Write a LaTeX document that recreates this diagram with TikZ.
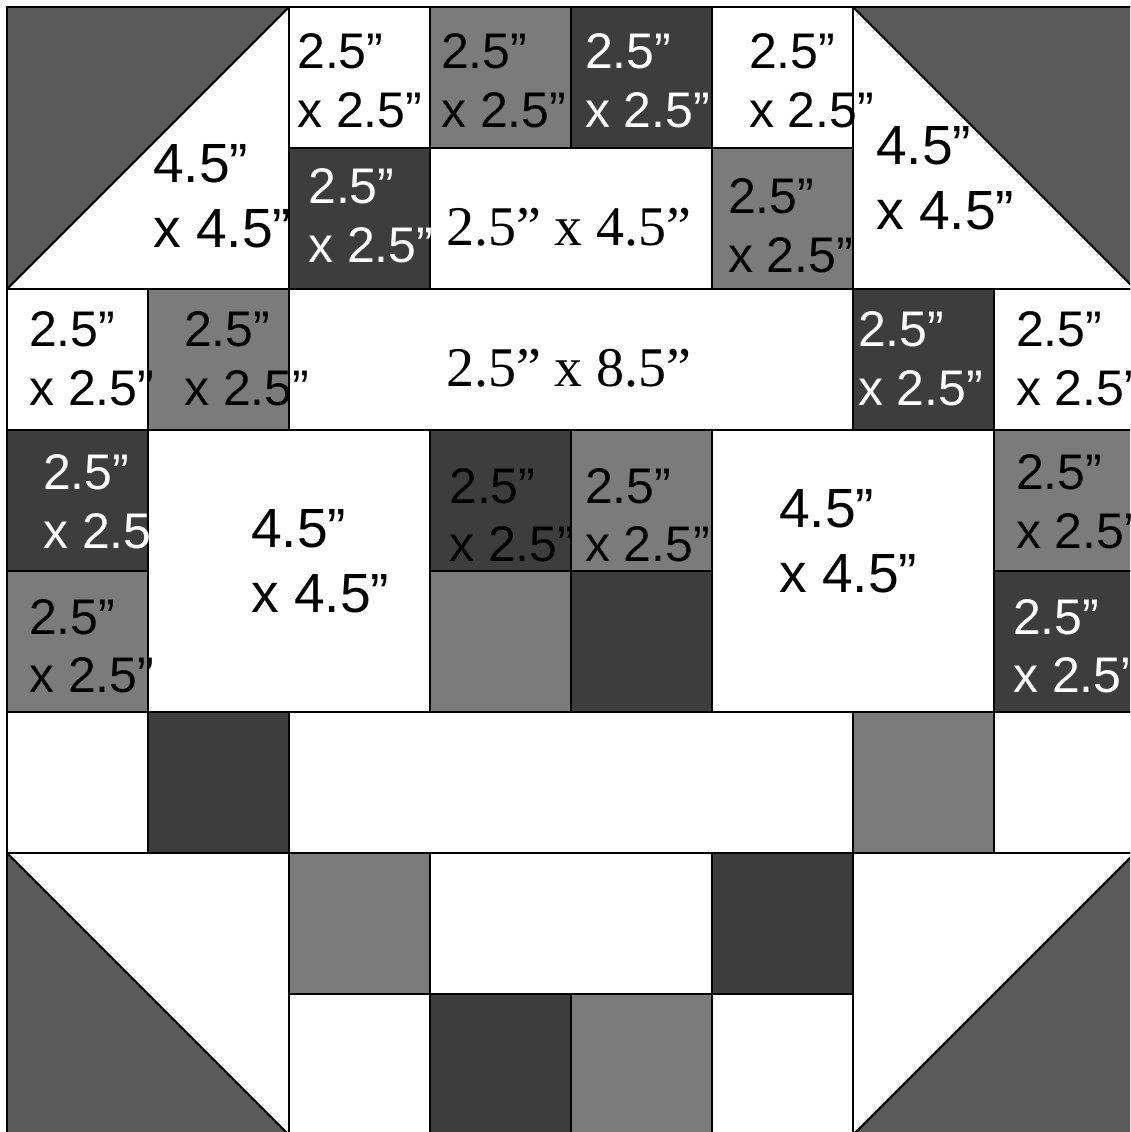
\documentclass[tikz,border=0pt]{standalone}
\usepackage{fontspec}
\setmainfont{Liberation Serif}
\setsansfont{Liberation Sans}
\usepackage{tikz}
\definecolor{hstgray}{HTML}{5A5A5A}
\definecolor{darkpatch}{HTML}{3D3D3D}
\definecolor{midpatch}{HTML}{7B7B7B}

\begin{document}
\begin{tikzpicture}[x=2cm,y=-2cm,line width=0.9pt,
  small/.style={anchor=north west,inner sep=0pt,align=left,font=\sffamily\fontsize{20.2}{23.8}\selectfont},
  big/.style={anchor=north west,inner sep=0pt,align=left,font=\sffamily\fontsize{22.3}{26.2}\selectfont},
  wide/.style={anchor=north west,inner sep=0pt,font=\rmfamily\fontsize{22.6}{27}\selectfont}]
\useasboundingbox (-0.05,-0.05) rectangle (7.965,7.979);
\clip (-0.05,-0.05) rectangle (7.965,7.979);
\fill[white] (-0.05,-0.05) rectangle (7.965,7.979);
% half square triangles in the corners
\filldraw[fill=white] (0,0) rectangle (2,2);
\fill[hstgray] (0,0)--(2,0)--(0,2)--cycle;
\draw (0,0) rectangle (2,2); \draw (0,2)--(2,0);
\filldraw[fill=white] (6,0) rectangle (8,2);
\fill[hstgray] (6,0)--(8,0)--(8,2)--cycle;
\draw (6,0) rectangle (8,2); \draw (6,0)--(8,2);
\filldraw[fill=white] (0,6) rectangle (2,8);
\fill[hstgray] (0,6)--(0,8)--(2,8)--cycle;
\draw (0,6) rectangle (2,8); \draw (0,6)--(2,8);
\filldraw[fill=white] (6,6) rectangle (8,8);
\fill[hstgray] (8,6)--(8,8)--(6,8)--cycle;
\draw (6,6) rectangle (8,8); \draw (6,8)--(8,6);
% patches
\foreach \c/\r/\w/\h/\col in {2/0/1/1/white,5/0/1/1/white,3/1/2/1/white,0/2/1/1/white,2/2/4/1/white,
  7/2/1/1/white,1/3/2/2/white,5/3/2/2/white,0/5/1/1/white,2/5/4/1/white,7/5/1/1/white,
  3/6/2/1/white,2/7/1/1/white,5/7/1/1/white,
  3/0/1/1/midpatch,5/1/1/1/midpatch,1/2/1/1/midpatch,4/3/1/1/midpatch,3/4/1/1/midpatch,
  7/3/1/1/midpatch,0/4/1/1/midpatch,6/5/1/1/midpatch,2/6/1/1/midpatch,4/7/1/1/midpatch,
  4/0/1/1/darkpatch,2/1/1/1/darkpatch,6/2/1/1/darkpatch,0/3/1/1/darkpatch,3/3/1/1/darkpatch,
  4/4/1/1/darkpatch,7/4/1/1/darkpatch,1/5/1/1/darkpatch,5/6/1/1/darkpatch,3/7/1/1/darkpatch}{
  \filldraw[fill=\col] (\c,\r) rectangle ++(\w,\h);}
% labels
\foreach \nm/\x/\y/\tc in {sa/2.050/0.177/black,sb/3.071/0.177/black,sc/4.092/0.177/white,
  sd/5.255/0.177/black,se/2.128/1.135/white,sf/5.106/1.206/black,sg/0.149/2.149/black,
  sh/1.248/2.149/black,si/6.028/2.149/white,sj/7.149/2.149/black,sk/3.128/3.262/black,
  sl/4.092/3.262/black,sm/7.149/3.163/black,sn/0.149/4.191/black,so/7.128/4.191/white}{
  \node[small,text=\tc] (\nm) at (\x,\y) {2.5”\\x 2.5”};}
\node[small,text=white] (sp) at (0.248,3.163) {2.5”\\x 2.5};
\node[big] (ba) at (1.028,0.965) {4.5”\\x 4.5”};
\node[big] (bb) at (6.156,0.837) {4.5”\\x 4.5”};
\node[big] (bc) at (1.723,3.553) {4.5”\\x 4.5”};
\node[big] (bd) at (5.468,3.411) {4.5”\\x 4.5”};
\node[wide] (wa) at (3.106,1.418) {2.5” x 4.5”};
\node[wide] (wb) at (3.106,2.418) {2.5” x 8.5”};
\end{tikzpicture}
\end{document}
